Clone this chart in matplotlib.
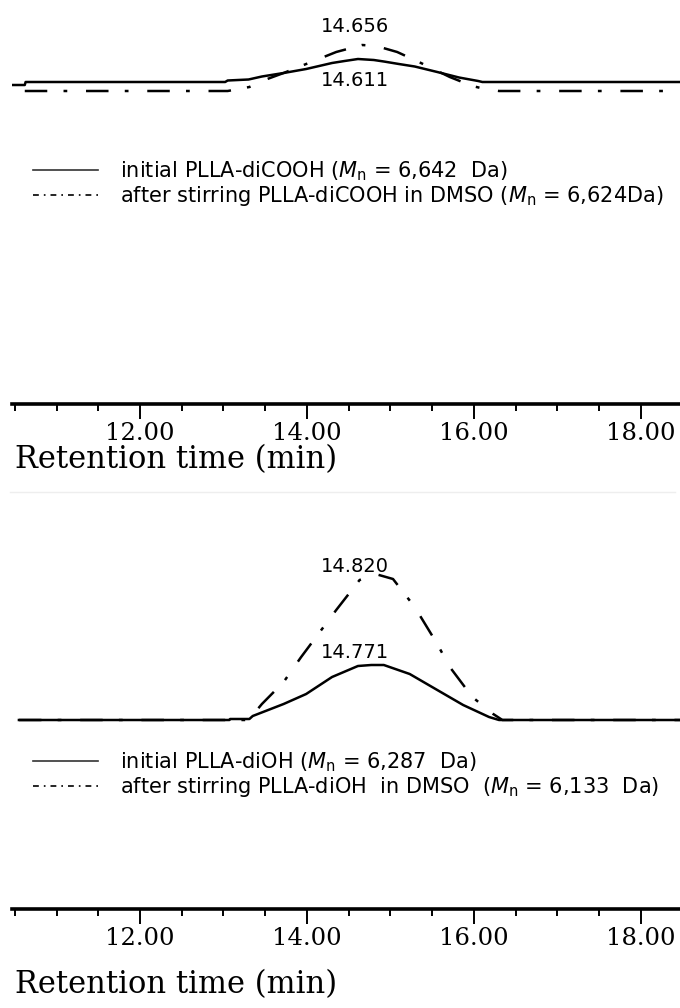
import matplotlib
matplotlib.use('Agg')
import matplotlib.pyplot as plt
from matplotlib.lines import Line2D

# GPC traces (retention time in min, detector response in arb. units)
cooh_init_t = [10.47, 10.62, 10.63, 13.02, 13.05, 13.30, 13.46, 13.72, 13.99, 14.30, 14.45, 14.61,
               14.80, 14.92, 15.10, 15.29, 15.56, 15.82, 16.05, 16.10, 18.47]
cooh_init_y = [-3, -3, 0, 0, 1.5, 2.5, 5.5, 9, 13, 19, 21, 23, 22, 20.5, 18, 15.5, 10, 4.5, 1, 0, 0]

cooh_dmso_t = [10.62, 13.05, 13.31, 13.46, 13.72, 13.99, 14.08, 14.35, 14.66, 14.83, 15.08, 15.34,
               15.71, 15.98, 16.13, 16.30, 18.47]
cooh_dmso_y = [-9, -9, -5, 1, 9, 18, 21, 30, 37, 36, 30, 20, 5, -4, -7, -9, -9]

oh_init_t = [10.55, 13.07, 13.08, 13.31, 13.35, 13.72, 13.99, 14.30, 14.61, 14.77, 14.92, 15.23,
             15.56, 15.87, 16.18, 16.30, 18.47]
oh_init_y = [0, 0, 1, 1, 4, 16, 26, 43, 54, 55, 55, 46, 30, 15, 3, 0, 0]

oh_dmso_t = [10.55, 13.30, 13.46, 13.72, 13.93, 14.35, 14.63, 14.82, 15.03, 15.29, 15.56, 15.71,
             15.98, 16.23, 16.34, 18.47]
oh_dmso_y = [0, 0, 16, 38, 63, 110, 140, 146, 141, 113, 76, 53, 23, 6, 0, 0]

cooh_peaks = ['14.656', '14.611']
oh_peaks = ['14.820', '14.771']

cooh_labels = ['initial PLLA-diCOOH ($M_\\mathrm{n}$ = 6,642  Da)',
               'after stirring PLLA-diCOOH in DMSO ($M_\\mathrm{n}$ = 6,624Da)']
oh_labels = ['initial PLLA-diOH ($M_\\mathrm{n}$ = 6,287  Da)',
             'after stirring PLLA-diOH  in DMSO  ($M_\\mathrm{n}$ = 6,133  Da)']

tick_vals = [12, 14, 16, 18]
tick_text = ['12.00', '14.00', '16.00', '18.00']

W, H = 680, 1008
X0 = 12 - 128 / 83.5
X1 = 12 + 540 / 83.5

plt.rcParams['mathtext.fontset'] = 'dejavusans'
fig = plt.figure(figsize=(W / 100, H / 100), dpi=100)


def px_axes(left, top, width, height):
    return fig.add_axes([left / W, 1 - (top + height) / H, width / W, height / H])


DASH = (9, 6.5, 1.5, 7.5)


def trace_panel(top, height, base, init_t, init_y, dmso_t, dmso_y, peaks, peak_pos, labels, leg_y):
    ax = px_axes(12, top, W - 12, height)
    ax.set_xlim(X0, X1)
    ax.set_ylim(base - (top + height), base - top)
    ax.axis('off')
    ax.plot(dmso_t, dmso_y, color='black', lw=1.8, dashes=DASH, solid_capstyle='butt')
    ax.plot(init_t, init_y, color='black', lw=1.8)
    for lab, (tx, ty) in zip(peaks, peak_pos):
        ax.text(tx, ty, lab, ha='center', va='center', fontsize=14, family='DejaVu Sans')
    handles = [Line2D([], [], color='#333333', lw=1.2),
               Line2D([], [], color='black', lw=1.2, dashes=(3.5, 3, 1, 3))]
    leg = ax.legend(handles, labels, loc='upper left', frameon=False,
                    fontsize=15, handlelength=3.1, handletextpad=1.1, labelspacing=0.08,
                    borderpad=0, borderaxespad=0)
    leg.set_bbox_to_anchor((33 / W, 1 - leg_y / H), transform=fig.transFigure)
    return ax


def ruler(y_line, y_label):
    ax = px_axes(12, y_line, W - 12, 1)
    ax.set_xlim(X0, X1)
    ax.set_yticks([])
    for s in ['top', 'left', 'right']:
        ax.spines[s].set_visible(False)
    ax.spines['bottom'].set_linewidth(2.6)
    ax.set_xticks(tick_vals)
    ax.set_xticklabels(tick_text)
    ax.set_xticks([x / 2 for x in range(21, 37)], minor=True)
    ax.tick_params(which='major', direction='out', length=11, width=1.4, pad=2,
                   labelsize=17.5, labelfontfamily='DejaVu Serif')
    ax.tick_params(which='minor', direction='out', length=5, width=1.4)
    fig.text(15 / W, 1 - y_label / H, 'Retention time (min)', ha='left', va='center',
             fontsize=22, family='DejaVu Serif')


trace_panel(0, 130, 82, cooh_init_t, cooh_init_y, cooh_dmso_t, cooh_dmso_y,
            cooh_peaks, [(14.57, 55), (14.57, 2)], cooh_labels, 159)
ruler(403, 460)

trace_panel(540, 200, 720, oh_init_t, oh_init_y, oh_dmso_t, oh_dmso_y,
            oh_peaks, [(14.57, 153), (14.57, 68)], oh_labels, 750)
ruler(908, 985)

fig.add_artist(Line2D([10 / W, 675 / W], [1 - 492 / H, 1 - 492 / H], color='#eeeeee', lw=1))

plt.savefig('out.png', dpi=100)
